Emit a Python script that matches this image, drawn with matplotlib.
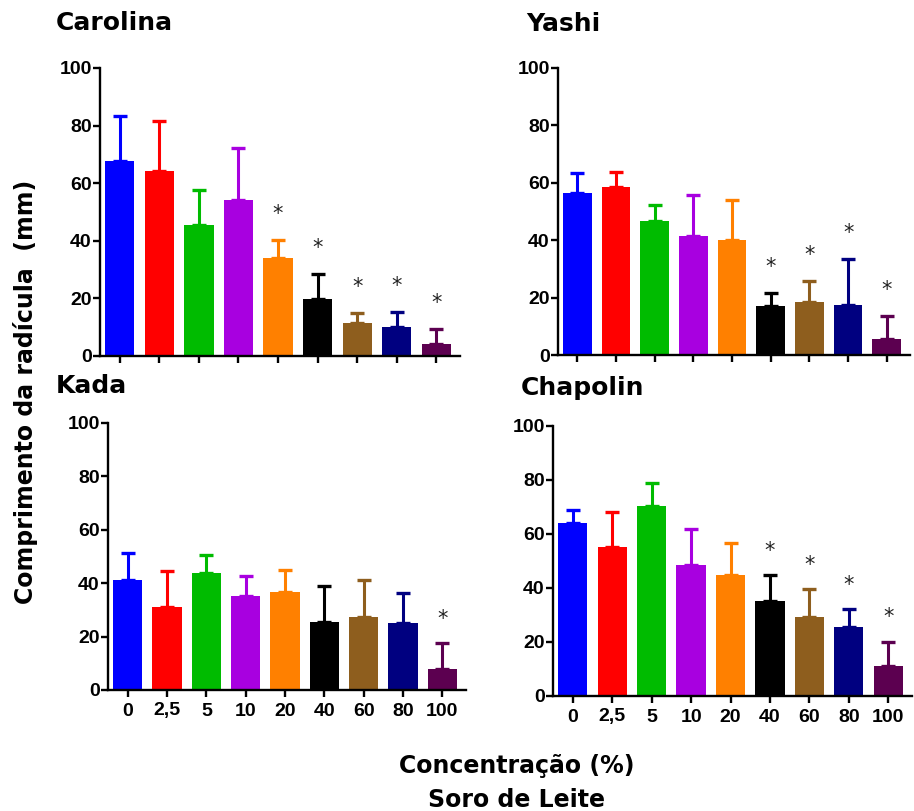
import numpy as np
import matplotlib.pyplot as plt

# concentracoes de soro de leite (%)
conc = ["0", "2,5", "5", "10", "20", "40", "60", "80", "100"]
cores = ["#0000ff", "#ff0000", "#00bb00", "#a800e0", "#ff8000",
         "#000000", "#8e5e1e", "#000080", "#5c0050"]

# comprimento medio da radicula (mm) e topo da barra de erro
carolina = [67.6, 64.4, 45.5, 54.2, 34.0, 19.8, 11.4, 10.2, 4.1]
carolina_sup = [83.5, 81.7, 57.5, 72.2, 40.3, 28.4, 14.8, 15.2, 9.3]
carolina_sig = [4, 5, 6, 7, 8]

yashi = [56.4, 58.7, 46.7, 41.3, 40.1, 16.9, 18.6, 17.4, 5.5]
yashi_sup = [63.4, 63.7, 52.3, 55.6, 54.1, 21.5, 25.8, 33.4, 13.7]
yashi_sig = [5, 6, 7, 8]

kada = [41.2, 31.0, 44.0, 35.2, 36.6, 25.6, 27.2, 25.0, 7.9]
kada_sup = [51.2, 44.6, 50.4, 42.7, 45.0, 39.1, 41.2, 36.2, 17.7]
kada_sig = [8]

chapolin = [64.2, 55.3, 70.4, 48.5, 45.0, 35.3, 29.4, 25.4, 11.1]
chapolin_sup = [68.9, 68.3, 78.8, 61.9, 56.8, 44.8, 39.5, 32.2, 20.1]
chapolin_sig = [5, 6, 7, 8]

W, H = 914, 811
fig = plt.figure(figsize=(W / 100, H / 100), dpi=100)


def painel(px, titulo, tx, ty, medias, sup, sig, rotulos):
    # px = (esquerda, direita, topo, base) em pixels
    l, r, t, b = px
    ax = fig.add_axes([l / W, 1 - b / H, (r - l) / W, (b - t) / H])
    x = np.arange(len(medias))
    medias = np.array(medias)
    erro = np.array(sup) - medias
    ax.bar(x, medias, width=0.74, color=cores, zorder=2)
    for i in range(len(x)):
        ax.errorbar(x[i], medias[i], yerr=[[0], [erro[i]]], fmt="none",
                    ecolor=cores[i], elinewidth=2.2, capsize=5, capthick=2.4,
                    zorder=1)
    for i in sig:
        ax.text(x[i], sup[i] + 9, "*", ha="center", va="center",
                fontsize=15, color="#222222")
    ax.set_ylim(0, 100)
    ax.set_xlim(-0.5, 8.6)
    ax.set_yticks([0, 20, 40, 60, 80, 100])
    ax.set_xticks(x)
    if rotulos:
        ax.set_xticklabels(conc)
    else:
        ax.set_xticklabels([])
    for s in ["top", "right"]:
        ax.spines[s].set_visible(False)
    for s in ["left", "bottom"]:
        ax.spines[s].set_linewidth(1.7)
    ax.tick_params(direction="out", length=5, width=1.7, pad=1,
                   labelsize=14)
    ax.tick_params(axis="x", pad=4)
    for lb in ax.get_xticklabels() + ax.get_yticklabels():
        lb.set_fontfamily("Liberation Sans")
        lb.set_fontweight("bold")
    fig.text(tx / W, 1 - ty / H, titulo, fontsize=18, fontweight="bold",
             ha="left", va="center")
    return ax


painel((100, 460, 68, 356), "Carolina", 56, 23, carolina, carolina_sup,
       carolina_sig, False)
painel((558, 910, 68, 355), "Yashi", 526, 24, yashi, yashi_sup,
       yashi_sig, False)
painel((108, 466, 423, 690), "Kada", 56, 386, kada, kada_sup,
       kada_sig, True)
painel((553, 912, 426, 696), "Chapolin", 521, 388, chapolin, chapolin_sup,
       chapolin_sig, True)

fig.text(26 / W, 1 - 392 / H, "Comprimento da radícula  (mm)", rotation=90,
         fontsize=17, fontweight="bold", ha="center", va="center")
fig.text(517 / W, 1 - 766 / H, "Concentração (%)", fontsize=17,
         fontweight="bold", ha="center", va="center")
fig.text(517 / W, 1 - 800 / H, "Soro de Leite", fontsize=17,
         fontweight="bold", ha="center", va="center")

fig.savefig("out.png", dpi=100)
